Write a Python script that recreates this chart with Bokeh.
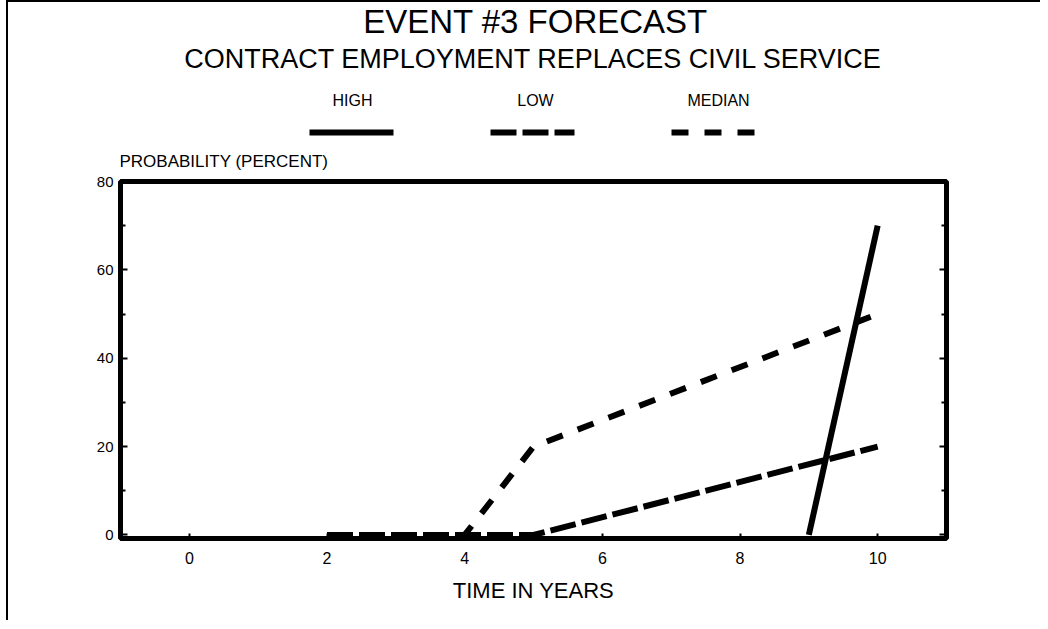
from bokeh.plotting import figure
from bokeh.models import Range1d, LinearAxis, FixedTicker
from bokeh.layouts import column
from bokeh.core.properties import value
from bokeh.embed import file_html
from bokeh.resources import INLINE

# ---- data ----
TITLE = "EVENT #3 FORECAST"
SUBTITLE = "CONTRACT EMPLOYMENT REPLACES CIVIL SERVICE"
Y_LABEL = "PROBABILITY (PERCENT)"
X_LABEL = "TIME IN YEARS"
X_TICKS = [0, 2, 4, 6, 8, 10]
Y_TICKS = [0, 20, 40, 60, 80]
Y_MINOR = [10, 30, 50, 70]

SERIES = ["HIGH", "LOW", "MEDIAN"]
HIGH_X = [9, 10]
HIGH_Y = [0, 70]
LOW_X = [2, 5, 10]
LOW_Y = [0, 0, 20]
MEDIAN_X = [2, 4, 5, 10]
MEDIAN_Y = [0, 0, 20, 50]

FONT = value("Liberation Sans")
DASHES = {"HIGH": "solid", "LOW": "26 6", "MEDIAN": "17 16"}
LW = 6

W = 1032
TOP = 2            # page y where content starts (below the css top border)
HEAD_H = 171
MAIN_H = 447
BL, BR = 112, 94   # frame borders (left / right)
FX0, FX1 = 8 + BL, 8 + W - BR   # frame left / right in page px

# ---- header (titles + legend), data units = page pixels ----
head = figure(width=W, height=HEAD_H, x_range=Range1d(FX0, FX1),
              y_range=Range1d(TOP + HEAD_H, TOP),
              output_backend="svg", toolbar_location=None,
              min_border_left=BL, min_border_right=BR, min_border_top=0, min_border_bottom=0,
              x_axis_location=None, y_axis_location=None)
head.grid.visible = False
head.outline_line_color = None

head.text(x=[535], y=[21], text=[TITLE], text_font=FONT, text_font_size="33px",
          text_align="center", text_baseline="middle", text_color="black")
head.text(x=[533], y=[58], text=[SUBTITLE], text_font=FONT, text_font_size="27px",
          text_align="center", text_baseline="middle", text_color="black")

leg_text_x = [352, 535, 718]
leg_line_x = [351, 532, 713]
leg_half = 42
for name, tx, lx in zip(SERIES, leg_text_x, leg_line_x):
    head.text(x=[tx], y=[100], text=[name], text_font=FONT, text_font_size="16px",
              text_align="center", text_baseline="middle", text_color="black")
    head.line(x=[lx - leg_half, lx + leg_half], y=[132, 132], line_width=LW,
              line_color="black", line_dash=DASHES[name])

head.text(x=[FX0 - 1], y=[161], text=[Y_LABEL], text_font=FONT, text_font_size="17px",
          text_align="left", text_baseline="middle", text_color="black")

# ---- main plot ----
p = figure(width=W, height=MAIN_H, x_range=Range1d(-1, 11), y_range=Range1d(-0.8, 80),
           output_backend="svg", toolbar_location=None,
           min_border_left=BL, min_border_right=BR, min_border_top=8, min_border_bottom=82)
p.grid.visible = False
p.outline_line_color = "black"
p.outline_line_width = 5
p.outline_line_alpha = 1.0
p.background_fill_color = "white"
p.border_fill_color = "white"

p.xaxis.ticker = FixedTicker(ticks=X_TICKS)
p.yaxis.ticker = FixedTicker(ticks=Y_TICKS, minor_ticks=Y_MINOR)
for ax in (p.xaxis[0], p.yaxis[0]):
    ax.axis_line_color = None
    ax.major_tick_out = 0
    ax.minor_tick_out = 0
    ax.major_tick_line_width = 2
    ax.minor_tick_line_width = 2
    ax.major_tick_line_color = "black"
    ax.minor_tick_line_color = "black"
    ax.major_label_text_font = "Liberation Sans"
    ax.major_label_text_color = "black"

p.xaxis.major_label_text_font_size = "16px"
p.yaxis.major_label_text_font_size = "15px"
p.xaxis.major_tick_in = 5
p.xaxis.minor_tick_line_color = None
p.xaxis.major_label_standoff = 13
p.xaxis.axis_label = X_LABEL
p.xaxis.axis_label_text_font = "Liberation Sans"
p.xaxis.axis_label_text_font_size = "22px"
p.xaxis.axis_label_text_font_style = "normal"
p.xaxis.axis_label_text_color = "black"
p.xaxis.axis_label_standoff = 11

p.yaxis.major_tick_in = 7
p.yaxis.minor_tick_in = 5
p.yaxis.major_label_standoff = 7

right = LinearAxis(ticker=FixedTicker(ticks=Y_TICKS, minor_ticks=Y_MINOR),
                   axis_line_color=None, major_tick_in=7, major_tick_out=0,
                   minor_tick_in=5, minor_tick_out=0, major_tick_line_width=2,
                   minor_tick_line_width=2, major_label_text_color=None,
                   major_label_standoff=0)
p.add_layout(right, "right")

p.line(HIGH_X, HIGH_Y, line_width=LW, line_color="black", line_dash=DASHES["HIGH"])
p.line(LOW_X, LOW_Y, line_width=LW, line_color="black", line_dash=DASHES["LOW"])
p.line(MEDIAN_X, MEDIAN_Y, line_width=LW, line_color="black", line_dash=DASHES["MEDIAN"])

layout = column(head, p, spacing=0, margin=(0, 0, 0, 6),
                styles={"border-left": "2px solid black", "border-top": "2px solid black"})

open("out.html", "w").write(file_html(layout, INLINE))
